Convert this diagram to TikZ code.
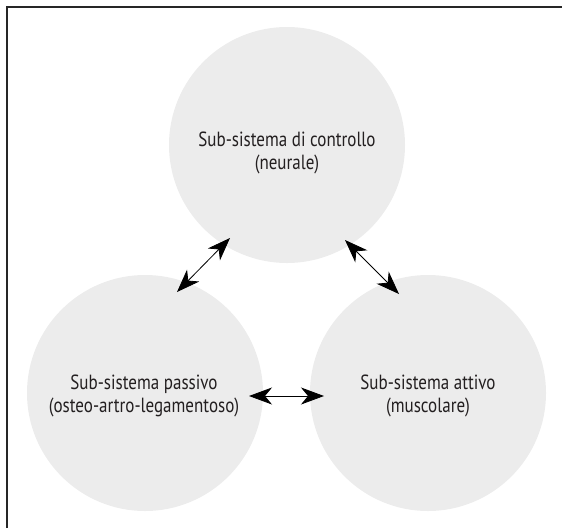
\documentclass[tikz,border=0pt]{standalone}
\usepackage{fontspec}
\setmainfont{PT Sans}[FakeStretch=0.83]
\usetikzlibrary{arrows.meta}
\definecolor{circfill}{RGB}{236,236,236}
\definecolor{txt}{RGB}{35,31,32}
\tikzset{
  sub/.style={circle, fill=circfill, minimum size=236pt, inner sep=0pt},
  label/.style={font=\fontsize{20.5}{23.5}\selectfont, text=txt, align=center},
  tip/.style={Stealth[length=23pt, width=17pt, inset=7pt]},
  link/.style={line width=0.8pt, {Stealth[length=23pt, width=17pt, inset=7pt]}-{Stealth[length=23pt, width=17pt, inset=7pt]}},
  frame/.style={line width=1.1pt, black!85}
}
\begin{document}
\begin{tikzpicture}[x=1pt, y=-1pt]
\useasboundingbox (0,0) rectangle (562,528);
\coordinate (fa) at (7,528);
\coordinate (fb) at (7,7);
\coordinate (fc) at (562,7);
\draw[frame] (fa) -- (fb) -- (fc);
\node[sub] (top) at (287,145) {};
\node[sub] (left) at (145,393) {};
\node[sub] (right) at (428,393) {};
\node[label] (ttop) at (287,153) {Sub-sistema di controllo\\(neurale)};
\node[label] (tleft) at (144,396) {Sub-sistema passivo\\(osteo-artro-legamentoso)};
\node[label] (tright) at (428,396) {Sub-sistema attivo\\(muscolare)};
\path (top.center) ++(-57,93) coordinate (a1);
\path (left.center) ++(32,-101) coordinate (b1);
\path (top.center) ++(58,95) coordinate (a2);
\path (right.center) ++(-29,-99) coordinate (b2);
\path (left.center) ++(104,3) coordinate (a3);
\path (right.center) ++(-104,3) coordinate (b3);
\draw[link] (b1) -- (a1);
\draw[link] (a2) -- (b2);
\draw[link] (a3) -- (b3);
\end{tikzpicture}
\end{document}
